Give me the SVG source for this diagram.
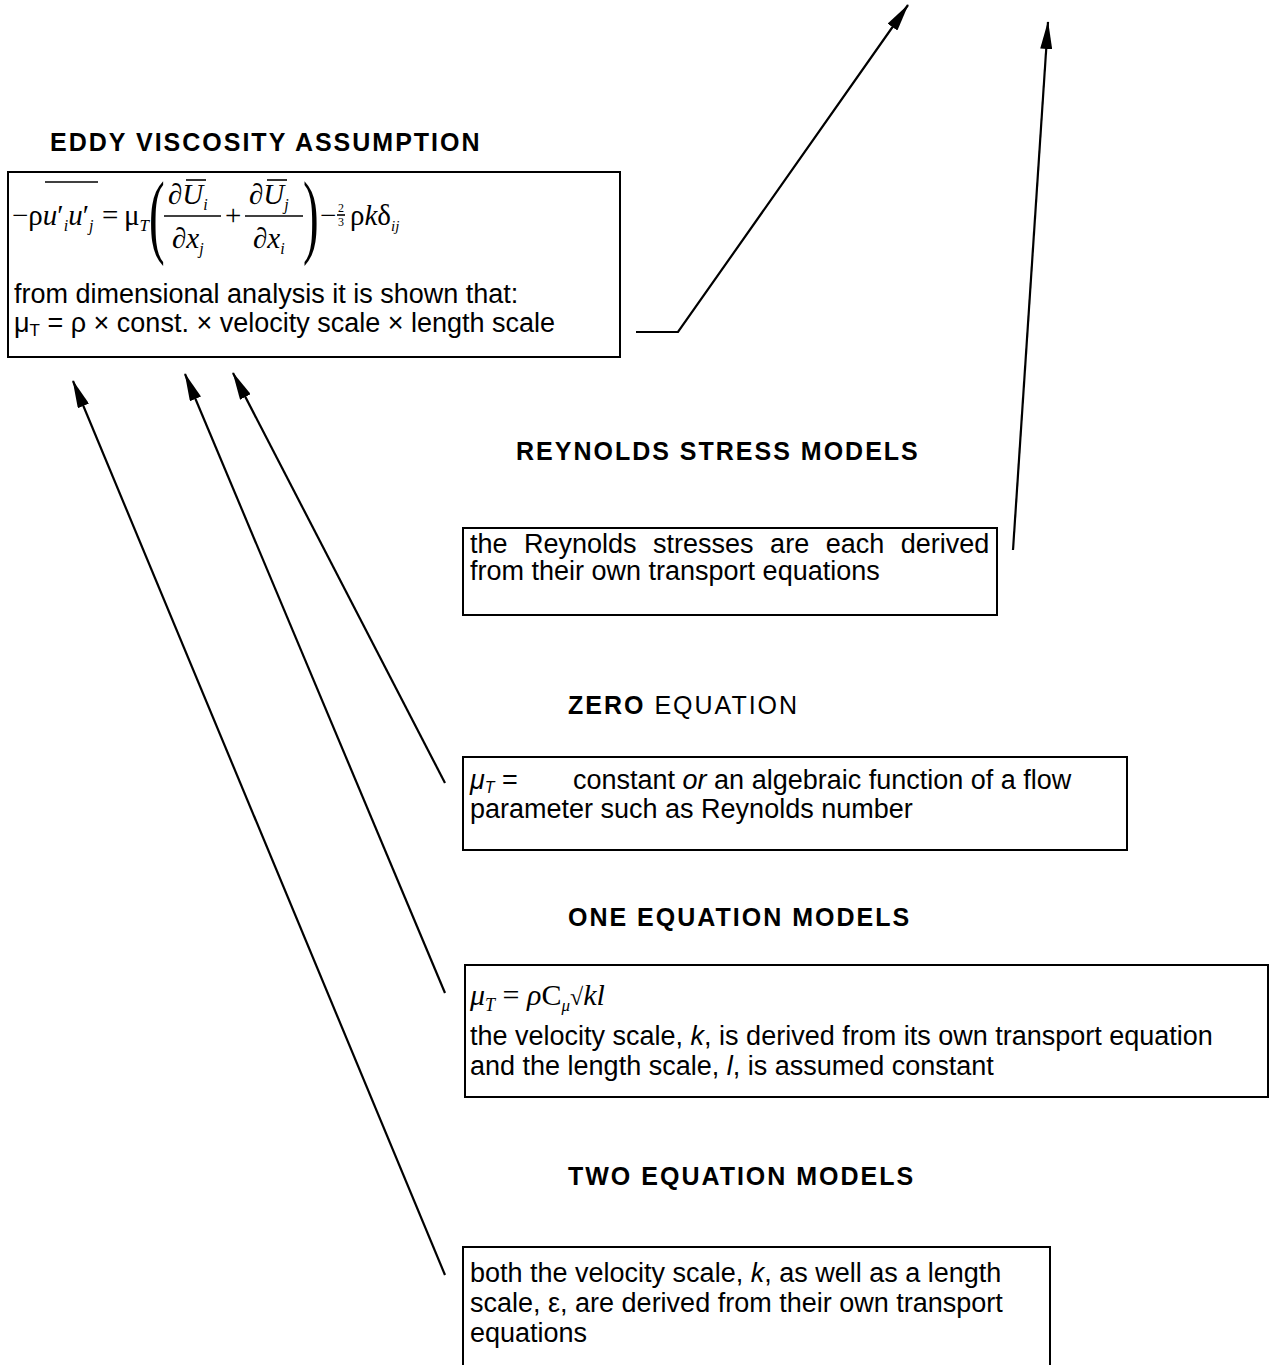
<svg xmlns="http://www.w3.org/2000/svg" width="1270" height="1365" viewBox="0 0 1270 1365">
<style>
.bg{fill:#fff}
.box{fill:#fff;stroke:#000;stroke-width:2}
.h{font-family:"Liberation Sans",Arial,sans-serif;font-weight:bold;font-size:25px;letter-spacing:2px;fill:#000}
.hn{font-weight:normal}
.t{font-family:"Liberation Sans",Arial,sans-serif;font-size:27px;fill:#000}
.te{font-family:"Liberation Sans",Arial,sans-serif;font-size:27px;fill:#000}
.m{font-family:"Liberation Serif","Times New Roman",serif;fill:#000}
.i{font-style:italic}
.ln{stroke:#000;stroke-width:2.2;fill:none}
.ol{stroke:#000;stroke-width:1.6}
</style>
<defs>
<marker id="ah" viewBox="0 0 28 12" refX="27" refY="6" markerWidth="28" markerHeight="12" markerUnits="userSpaceOnUse" orient="auto">
<path d="M0,0 L28,6 L0,12 z" fill="#000"/>
</marker>
</defs>
<rect class="bg" x="0" y="0" width="1270" height="1365"/>

<g id="eddy">
<text class="h" x="50" y="151">EDDY VISCOSITY ASSUMPTION</text>
<rect class="box" x="8" y="172" width="612" height="185"/>
<text class="m" x="12" y="225" style="font-size:29px">−ρ<tspan class="i">u</tspan>′<tspan class="i" style="font-size:16px" dy="6">i</tspan><tspan class="i" dy="-6">u</tspan>′<tspan class="i" style="font-size:16px" dy="6">j</tspan></text>
<line class="ol" x1="45" y1="182" x2="98" y2="182"/>
<text class="m" x="102" y="225" style="font-size:29px">=</text>
<text class="m" x="124" y="225" style="font-size:29px">μ<tspan class="i" style="font-size:17px" dy="6">T</tspan></text>
<text class="m" transform="translate(149,246) scale(0.5,1)" style="font-size:94px">(</text>
<text class="m" x="168" y="204" style="font-size:29px">∂<tspan class="i">U</tspan><tspan class="i" style="font-size:16px" dy="6">i</tspan></text>
<line class="ol" x1="186" y1="180" x2="206" y2="180"/>
<line class="ol" x1="164" y1="216" x2="221" y2="216"/>
<text class="m" x="172" y="248" style="font-size:29px">∂<tspan class="i">x</tspan><tspan class="i" style="font-size:16px" dy="6">j</tspan></text>
<text class="m" x="225" y="225" style="font-size:29px">+</text>
<text class="m" x="249" y="204" style="font-size:29px">∂<tspan class="i">U</tspan><tspan class="i" style="font-size:16px" dy="6">j</tspan></text>
<line class="ol" x1="267" y1="180" x2="287" y2="180"/>
<line class="ol" x1="245" y1="216" x2="303" y2="216"/>
<text class="m" x="253" y="248" style="font-size:29px">∂<tspan class="i">x</tspan><tspan class="i" style="font-size:16px" dy="6">i</tspan></text>
<text class="m" transform="translate(303,246) scale(0.5,1)" style="font-size:94px">)</text>
<text class="m" x="320" y="225" style="font-size:29px">−</text>
<text class="m" x="338" y="212" style="font-size:12px">2</text>
<line class="ol" x1="337" y1="215" x2="345" y2="215" stroke-width="0.8"/>
<text class="m" x="338" y="226" style="font-size:12px">3</text>
<text class="m" x="350" y="225" style="font-size:29px">ρ<tspan class="i">k</tspan>δ<tspan class="i" style="font-size:15px" dy="6">ij</tspan></text>
<text class="te" x="14" y="303">from dimensional analysis it is shown that:</text>
<text class="te" x="14" y="332">μ<tspan style="font-size:17px" dy="4">T</tspan><tspan dy="-4"> = ρ × const. × velocity scale × length scale</tspan></text>
</g>

<g id="reynolds">
<text class="h" x="516" y="460">REYNOLDS STRESS MODELS</text>
<rect class="box" x="463" y="528" width="534" height="87"/>
<text class="t" x="470" y="553" word-spacing="9">the Reynolds stresses are each derived</text>
<text class="t" x="470" y="580">from their own transport equations</text>
</g>

<g id="zero">
<text class="h" x="568" y="714">ZERO <tspan class="hn">EQUATION</tspan></text>
<rect class="box" x="463" y="757" width="664" height="93"/>
<text class="t" x="470" y="789"><tspan class="i">μ</tspan><tspan class="i" style="font-size:16px" dy="4">T</tspan><tspan dy="-4"> =</tspan></text>
<text class="t" x="573" y="789">constant <tspan class="i">or</tspan> an algebraic function of a flow</text>
<text class="t" x="470" y="818">parameter such as Reynolds number</text>
</g>

<g id="one">
<text class="h" x="568" y="926">ONE EQUATION MODELS</text>
<rect class="box" x="465" y="965" width="803" height="132"/>
<text class="m" x="470" y="1005" style="font-size:30px"><tspan class="i">μ</tspan><tspan class="i" style="font-size:18px" dy="6">T</tspan><tspan dy="-6"> = </tspan><tspan class="i">ρ</tspan>C<tspan class="i" style="font-size:17px" dy="6">μ</tspan><tspan dy="-6" style="font-size:24px">√</tspan><tspan class="i">kl</tspan></text>
<text class="t" x="470" y="1045">the velocity scale, <tspan class="i">k</tspan>, is derived from its own transport equation</text>
<text class="t" x="470" y="1075">and the length scale, <tspan class="i">l</tspan>, is assumed constant</text>
</g>

<g id="two">
<text class="h" x="568" y="1185">TWO EQUATION MODELS</text>
<rect class="box" x="463" y="1247" width="587" height="130"/>
<text class="t" x="470" y="1282">both the velocity scale, <tspan class="i">k</tspan>, as well as a length</text>
<text class="t" x="470" y="1312">scale, ε, are derived from their own transport</text>
<text class="t" x="470" y="1342">equations</text>
</g>

<g id="connectors">
<path class="ln" d="M636,332 L678,332 L908,5" marker-end="url(#ah)"/>
<path class="ln" d="M1013,550 L1048,22" marker-end="url(#ah)"/>
<path class="ln" d="M445,783 L233,373" marker-end="url(#ah)"/>
<path class="ln" d="M445,993 L185,374" marker-end="url(#ah)"/>
<path class="ln" d="M445,1275 L73,381" marker-end="url(#ah)"/>
</g>
</svg>
